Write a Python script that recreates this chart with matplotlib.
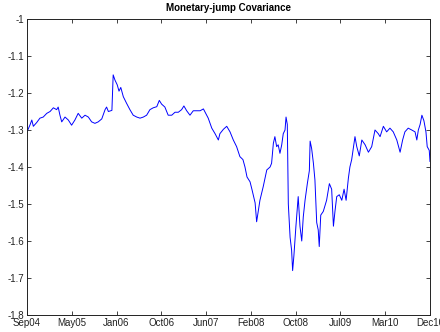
import numpy as np
import matplotlib
matplotlib.use('Agg')
import matplotlib.pyplot as plt

matplotlib.rcParams['font.family'] = ['Liberation Sans', 'DejaVu Sans']

# trading-day index since Sep 2004 and the estimated covariance
day = [0, 12, 19, 25, 38, 51, 64, 78, 91, 104, 117, 123, 130, 137, 150, 163, 176, 189, 202, 216,
       229, 242, 255, 268, 281, 295, 308, 314, 321, 335, 340, 347, 356, 363, 370, 380, 393, 406, 419, 433,
       446, 459, 472, 485, 498, 512, 522, 531, 544, 557, 571, 584, 597, 610, 619, 630, 643, 656, 670, 683,
       696, 709, 715, 729, 742, 755, 761, 775, 788, 801, 814, 827, 840, 852, 860, 868, 880, 888, 900, 906,
       913, 919, 932, 946, 959, 965, 972, 978, 985, 991, 998, 1005, 1011, 1018, 1022, 1027, 1031, 1038, 1044, 1048,
       1053, 1061, 1070, 1077, 1084, 1090, 1097, 1106, 1114, 1117, 1123, 1130, 1136, 1143, 1149, 1153, 1159, 1169, 1182, 1193,
       1202, 1209, 1215, 1222, 1232, 1242, 1251, 1259, 1268, 1274, 1281, 1294, 1301, 1311, 1321, 1334, 1347, 1360, 1373, 1386,
       1393, 1406, 1419, 1432, 1445, 1459, 1472, 1482, 1491, 1504, 1518, 1531, 1538, 1544, 1551, 1558, 1566, 1574, 1579, 1587,
       1590]
covar = [-1.305, -1.286, -1.273, -1.290, -1.280, -1.268, -1.265, -1.255, -1.250, -1.240, -1.245, -1.238, -1.260, -1.278, -1.265, -1.273, -1.287, -1.273, -1.255, -1.268,
         -1.260, -1.265, -1.278, -1.282, -1.278, -1.270, -1.245, -1.238, -1.250, -1.247, -1.151, -1.165, -1.178, -1.195, -1.185, -1.210, -1.228, -1.245, -1.260, -1.265,
         -1.268, -1.265, -1.260, -1.245, -1.240, -1.237, -1.220, -1.230, -1.238, -1.260, -1.260, -1.252, -1.252, -1.245, -1.235, -1.248, -1.260, -1.248, -1.248, -1.248,
         -1.243, -1.260, -1.268, -1.295, -1.310, -1.327, -1.310, -1.298, -1.290, -1.305, -1.327, -1.345, -1.372, -1.380, -1.400, -1.427, -1.440, -1.462, -1.497, -1.548,
         -1.516, -1.490, -1.453, -1.408, -1.400, -1.390, -1.336, -1.318, -1.345, -1.340, -1.363, -1.340, -1.310, -1.300, -1.265, -1.285, -1.500, -1.590, -1.625, -1.680,
         -1.640, -1.560, -1.480, -1.560, -1.600, -1.535, -1.490, -1.445, -1.410, -1.330, -1.350, -1.390, -1.435, -1.550, -1.570, -1.615, -1.530, -1.520, -1.490, -1.445,
         -1.460, -1.560, -1.520, -1.480, -1.475, -1.490, -1.460, -1.490, -1.430, -1.400, -1.380, -1.318, -1.345, -1.370, -1.327, -1.340, -1.360, -1.345, -1.300, -1.310,
         -1.318, -1.290, -1.305, -1.295, -1.305, -1.327, -1.360, -1.327, -1.305, -1.295, -1.300, -1.305, -1.327, -1.300, -1.285, -1.260, -1.275, -1.305, -1.345, -1.355,
         -1.385]
tick_labels = ['Sep04', 'May05', 'Jan06', 'Oct06', 'Jun07', 'Feb08', 'Oct08', 'Jul09', 'Mar10', 'Dec10']

fig = plt.figure(figsize=(4.4, 3.32), dpi=100, facecolor='white')
ax = fig.add_axes([27 / 440, 17 / 332, 403 / 440, 296 / 332])
ax.plot(day, covar, color='#0000ff', linewidth=0.7)

ax.set_xlim(0, 1590)
ax.set_ylim(-1.8, -1.0)
ax.set_xticks(np.linspace(0, 1590, len(tick_labels)))
ax.set_xticklabels(tick_labels)
ax.set_yticks(np.arange(-1.8, -0.99, 0.1))
ax.set_yticklabels(['%g' % v for v in np.round(np.arange(-1.8, -0.99, 0.1), 1)])
ax.tick_params(direction='in', length=3, width=0.6, labelsize=7, colors='#222222',
               top=True, right=True, pad=2)
for s in ax.spines.values():
    s.set_linewidth(0.7)
    s.set_color('#222222')

ax.set_title('Monetary-jump Covariance', fontsize=7, fontweight='bold', pad=6)

fig.savefig('out.png', dpi=100, facecolor='white')
